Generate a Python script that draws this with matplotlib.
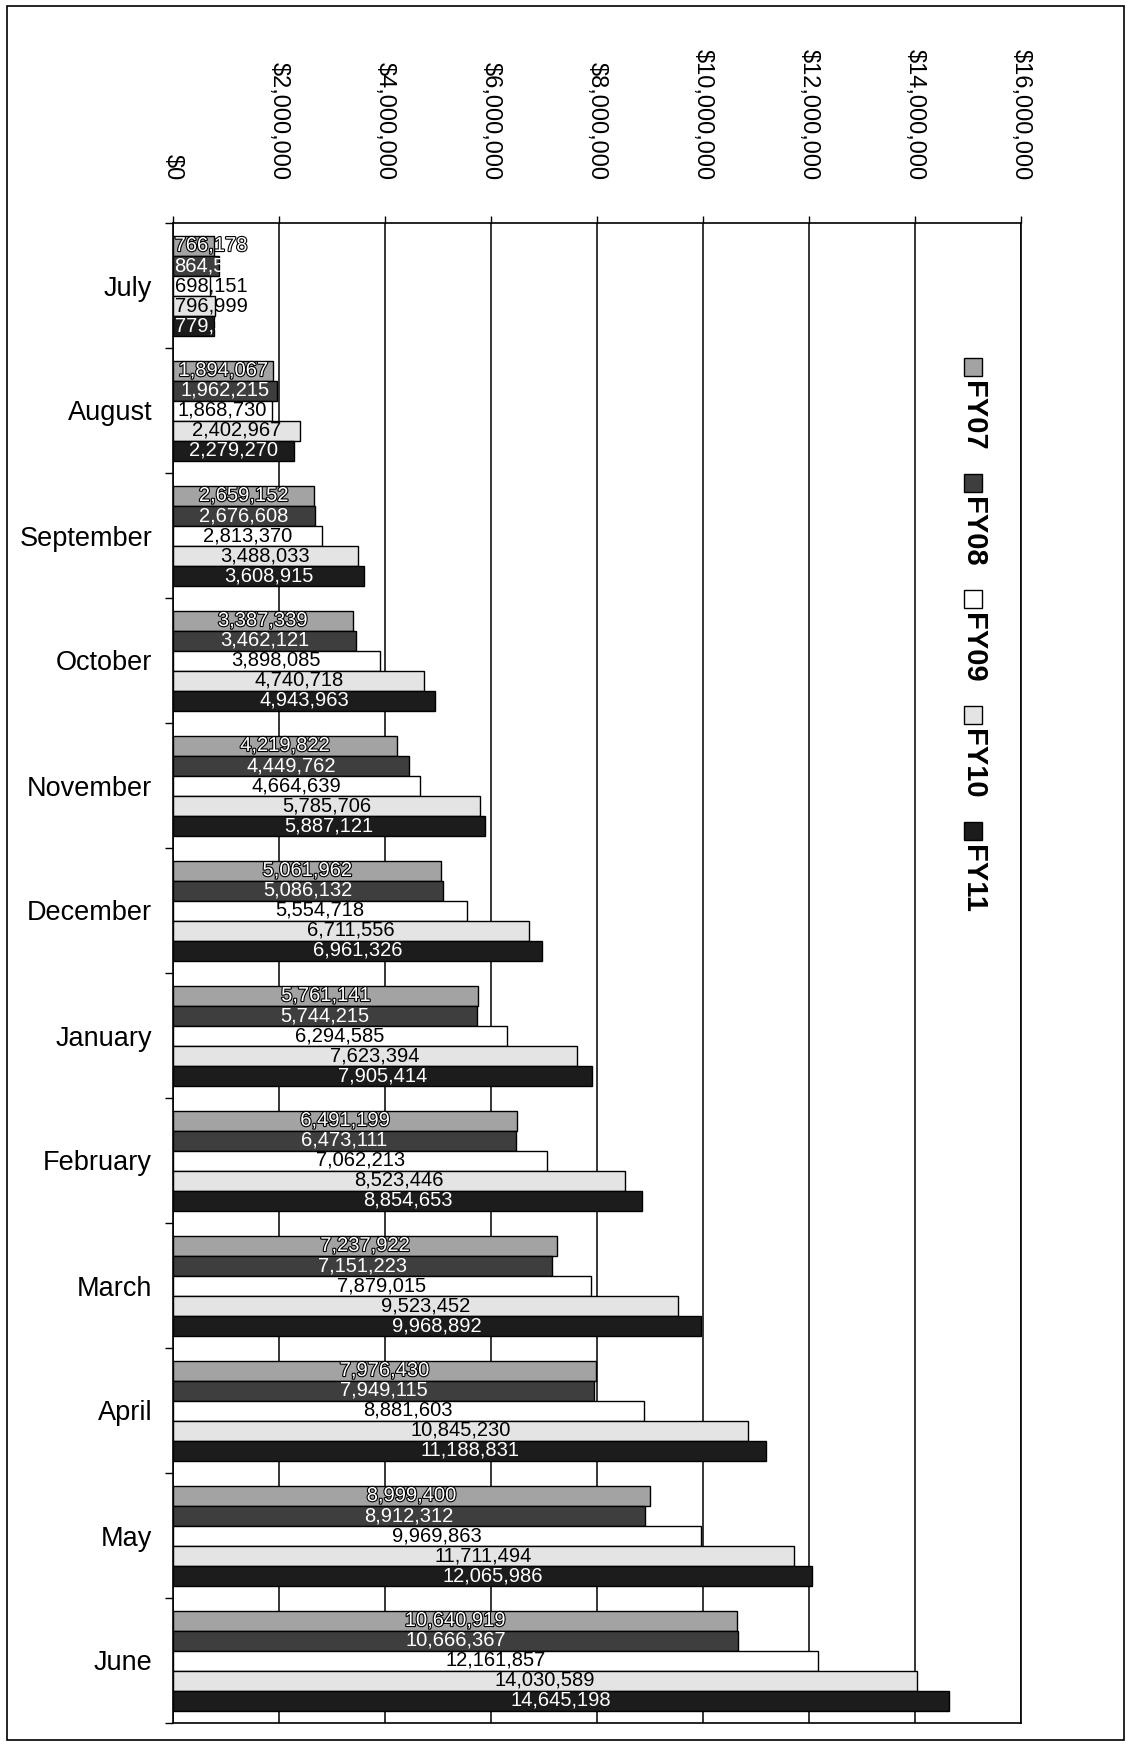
import matplotlib
matplotlib.use("Agg")
import matplotlib.pyplot as plt
import matplotlib.patheffects as pe
from matplotlib.patches import Rectangle
from matplotlib.ticker import FuncFormatter, MultipleLocator
import numpy as np

plt.rcParams['font.family'] = ['Liberation Sans', 'DejaVu Sans']

# data
months = ["July", "August", "September", "October", "November", "December",
          "January", "February", "March", "April", "May", "June"]
series_names = ["FY07", "FY08", "FY09", "FY10", "FY11"]

fy07 = [766178, 1894067, 2659152, 3387339, 4219822, 5061962,
        5761141, 6491199, 7237922, 7976430, 8999400, 10640919]
fy08 = [864512, 1962215, 2676608, 3462121, 4449762, 5086132,
        5744215, 6473111, 7151223, 7949115, 8912312, 10666367]
fy09 = [698151, 1868730, 2813370, 3898085, 4664639, 5554718,
        6294585, 7062213, 7879015, 8881603, 9969863, 12161857]
fy10 = [796999, 2402967, 3488033, 4740718, 5785706, 6711556,
        7623394, 8523446, 9523452, 10845230, 11711494, 14030589]
fy11 = [779340, 2279270, 3608915, 4943963, 5887121, 6961326,
        7905414, 8854653, 9968892, 11188831, 12065986, 14645198]
series = [fy07, fy08, fy09, fy10, fy11]

# styles
bar_colors = ["#a3a3a3", "#3e3e3e", "#ffffff", "#e4e4e4", "#1c1c1c"]
text_colors = ["white", "white", "black", "black", "white"]
text_stroke = [True, False, False, False, False]

W, H = 1132, 1745
fig = plt.figure(figsize=(W / 100, H / 100), dpi=100)
ax = fig.add_axes([173 / W, 1 - 1723 / H, 848 / W, 1500 / H])

bh = 0.16
y = np.arange(len(months))
labels = []
for i, vals in enumerate(series):
    pos = y + (i - 2) * bh
    ax.barh(pos, vals, height=bh, color=bar_colors[i], edgecolor="black",
            linewidth=1.0, zorder=3)
    for p, v in zip(pos, vals):
        t = ax.text(v / 2, p, f"{v:,}", ha="center", va="center",
                    fontsize=14.5, color=text_colors[i], zorder=4)
        if text_stroke[i]:
            t.set_path_effects([pe.withStroke(linewidth=1.6, foreground="black")])
        labels.append((t, v, p))

ax.set_xlim(0, 16000000)
ax.set_ylim(len(months) - 0.5, -0.5)

# keep labels inside the plot when the bar is too short
fig.canvas.draw()
r = fig.canvas.get_renderer()
ax_w = ax.get_window_extent(r).width
for t, v, p in labels:
    w = t.get_window_extent(r).width / ax_w * 16000000
    if v / 2 - w / 2 < 0:
        t.set_x(w / 2 + 30000)

# x axis on top
ax.xaxis.set_major_locator(MultipleLocator(2000000))
ax.xaxis.set_major_formatter(FuncFormatter(lambda x, _: f"${x:,.0f}"))
ax.xaxis.tick_top()
ax.tick_params(axis="x", direction="out", length=5, width=1, pad=26,
               labelsize=17, labelrotation=-90)
for lab in ax.get_xticklabels():
    lab.set_va("bottom")

ax.set_yticks(y)
ax.set_yticklabels(months)
ax.set_yticks(np.arange(len(months) + 1) - 0.5, minor=True)
ax.tick_params(axis="y", which="major", length=0, pad=15, labelsize=19.5)
ax.tick_params(axis="y", which="minor", length=6, width=1, direction="out")

ax.grid(axis="x", color="black", linewidth=1.1, zorder=0)
ax.set_axisbelow(True)
for s in ax.spines.values():
    s.set_color("black")
    s.set_linewidth(1.2)

# vertical legend
for i, name in enumerate(series_names):
    cy = 367 + i * 116
    fig.patches.append(Rectangle(((973 - 9) / W, 1 - (cy + 9) / H), 18 / W, 18 / H,
                                 transform=fig.transFigure, facecolor=bar_colors[i],
                                 edgecolor="black", linewidth=1))
    fig.text(973 / W, 1 - (cy + 14) / H, name, rotation=-90, ha="center", va="top",
             fontsize=21, fontweight="bold")

# chart border
fig.patches.append(Rectangle((7 / W, 1 - 1740 / H), 1117 / W, 1734 / H,
                             transform=fig.transFigure, fill=False,
                             edgecolor="black", linewidth=1.2))

fig.savefig("out.png", dpi=100)
